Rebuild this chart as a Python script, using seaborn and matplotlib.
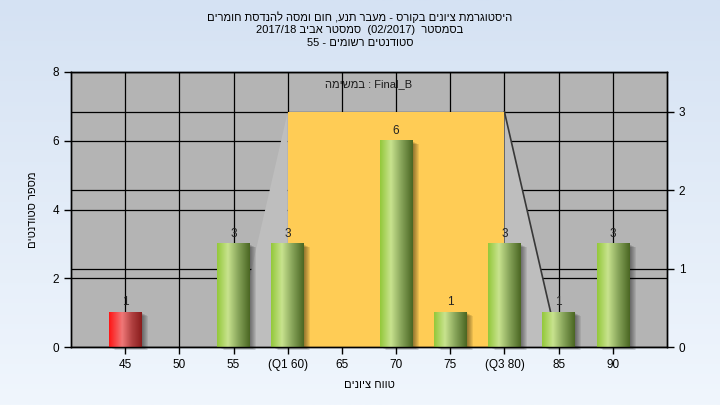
import re
import numpy as np
import pandas as pd
import matplotlib
matplotlib.use('Agg')
import matplotlib.pyplot as plt
import seaborn as sns
from matplotlib.patches import Rectangle, Polygon
from matplotlib.colors import to_rgb

# ---------------- data ----------------
grade_labels = ['45', '50', '55', '(Q1 60)', '65', '70', '75', '(Q3 80)', '85', '90']
student_counts = [1, 0, 3, 3, 0, 6, 1, 3, 1, 3]
fail_labels = ['45']
q1_label = '(Q1 60)'
q3_label = '(Q3 80)'
whisker_low = '55'
whisker_high = '85'
box_height_right = 3
left_ticks = [0, 2, 4, 6, 8]
right_ticks = [0, 1, 2, 3]
left_max = 8
right_max = 3.51

title_1 = 'היסטוגרמת ציונים בקורס - מעבר תנע, חום ומסה להנדסת חומרים'
title_2 = 'בסמסטר  (02/2017)  סמסטר אביב 2017/18'
title_3 = 'סטודנטים רשומים - 55'
task_word = 'במשימה'
task_name = 'Final_B'
y_label = 'מספר סטודנטים'
x_label = 'טווח ציונים'


def rtl(s):
    """Visual (display) order for a right-to-left line."""
    r = s[::-1]
    r = re.sub(r'[0-9/]+', lambda m: m.group(0)[::-1], r)
    return r.translate(str.maketrans('()', ')('))


FONT = ['Liberation Sans', 'DejaVu Sans']
plt.rcParams['font.family'] = FONT
FS = 8.5
FS_T = 8

W, H = 720, 405
fig = plt.figure(figsize=(7.2, 4.05), dpi=100)

# background gradient
bg = fig.add_axes([0, 0, 1, 1])
bg.set_zorder(-5)
top = np.array(to_rgb('#d5e2f3'))
bot = np.array(to_rgb('#f0f6fd'))
t = np.linspace(0, 1, 256)[:, None, None]
grad = top * (1 - t) + bot * t
bg.imshow(grad, aspect='auto', extent=[0, 1, 0, 1], origin='upper')
bg.axis('off')

ax_l, ax_r, ax_b, ax_t = 71, 667, 347, 72
ax = fig.add_axes([ax_l / W, 1 - ax_b / H, (ax_r - ax_l) / W, (ax_b - ax_t) / H])
ax.set_facecolor('#b4b4b4')

df = pd.DataFrame({'grade': grade_labels, 'count': student_counts})
palette = {g: ('#ff2020' if g in fail_labels else '#9ccc3c') for g in grade_labels}
sns.barplot(data=df, x='grade', y='count', order=grade_labels, hue='grade',
            palette=palette, legend=False, width=0.6, saturation=1, ax=ax,
            zorder=4, linewidth=0)

xlim = (-1, len(grade_labels))
ax.set_xlim(*xlim)
ax.set_ylim(0, left_max)
scale = left_max / right_max
px = (xlim[1] - xlim[0]) / (ax_r - ax_l)
py = left_max / (ax_b - ax_t)

# grid lines
ax.set_yticks(left_ticks)
ax.set_axisbelow(True)
ax.grid(True, color='black', linewidth=0.9, zorder=0.5)
for v in right_ticks[1:]:
    ax.axhline(v * scale, color='black', linewidth=0.9, zorder=0.5)

# box region and whiskers
iq1 = grade_labels.index(q1_label)
iq3 = grade_labels.index(q3_label)
ilo = grade_labels.index(whisker_low)
ihi = grade_labels.index(whisker_high)
hb = box_height_right * scale
ax.add_patch(Polygon([(iq1, hb), (ilo, 0), (iq1, 0)], closed=True,
                     facecolor='#bebebe', edgecolor='none', zorder=1.5))
ax.add_patch(Polygon([(iq3, hb), (ihi, 0), (iq3, 0)], closed=True,
                     facecolor='#bebebe', edgecolor='none', zorder=1.5))
ax.plot([iq3, ihi], [hb, 0], color='#383838', linewidth=1.2, zorder=1.8)
ax.add_patch(Rectangle((iq1, 0), iq3 - iq1, hb, facecolor='#ffcc55',
                       edgecolor='none', zorder=2))


def gradient(stops, n=128):
    xs = np.linspace(0, 1, n)
    pos = [s[0] for s in stops]
    cols = np.array([to_rgb(s[1]) for s in stops])
    arr = np.stack([np.interp(xs, pos, cols[:, k]) for k in range(3)], axis=-1)
    return arr[None, :, :]


green_grad = gradient([(0, '#93c83a'), (0.33, '#c8e38e'), (0.65, '#87a45a'), (1, '#4a6622')])
red_grad = gradient([(0, '#ff1414'), (0.4, '#f07878'), (0.7, '#b04040'), (1, '#8a1c1c')])

for p in list(ax.patches):
    if not isinstance(p, Rectangle) or p.get_zorder() != 4:
        continue
    h = p.get_height()
    x0 = p.get_x()
    w = p.get_width()
    if h <= 0:
        continue
    idx = int(round(x0 + w / 2))
    g = red_grad if grade_labels[idx] in fail_labels else green_grad
    p.set_facecolor('none')
    ax.imshow(g, extent=[x0, x0 + w, 0, h], aspect='auto', zorder=4.2,
              interpolation='bilinear')
    for k, off in enumerate([1.5, 2.5, 3.5, 4.5, 5.5, 6.5]):
        ax.add_patch(Rectangle((x0 + off * px, -off * 0.5 * py), w, h,
                               facecolor='black', edgecolor='none',
                               alpha=0.08, zorder=3, clip_on=False))
    ax.annotate(str(student_counts[idx]), (x0 + w / 2, h), xytext=(0, 3),
                textcoords='offset points', ha='center', va='bottom',
                fontsize=FS, color='#222222', zorder=6)

ax.set_xlim(*xlim)
ax.set_ylim(0, left_max)
ax.set_aspect('auto')

ax.set_xticks(range(len(grade_labels)))
ax.set_xticklabels(grade_labels)
ax.tick_params(axis='both', direction='out', length=5, width=1, color='black',
               labelsize=FS, labelcolor='black')
for s in ax.spines.values():
    s.set_color('black')
    s.set_linewidth(1)

ax.set_xlabel(rtl(x_label), fontsize=FS_T)
ax.xaxis.set_label_coords(0.5, -0.12)
ax.set_ylabel(rtl(y_label), fontsize=FS_T, rotation=90)
ax.yaxis.set_label_coords(-0.056, 0.5)

ax2 = ax.twinx()
ax2.set_ylim(0, right_max)
ax2.set_yticks(right_ticks)
ax2.tick_params(axis='y', direction='out', length=5, width=1, color='black',
                labelsize=FS, labelcolor='black')
ax2.grid(False)
for s in ax2.spines.values():
    s.set_color('black')
    s.set_linewidth(1)

ax.text(0.5, 0.955, task_word[::-1] + ' : ' + task_name, transform=ax.transAxes,
        ha='center', va='center', fontsize=FS_T, color='#1a1a1a', zorder=7)

fig.text(0.5, 1 - 17 / H, rtl(title_1), ha='center', va='center', fontsize=FS_T)
fig.text(0.5, 1 - 30 / H, rtl(title_2), ha='center', va='center', fontsize=FS_T)
fig.text(0.5, 1 - 43 / H, rtl(title_3), ha='center', va='center', fontsize=FS_T)

fig.savefig('out.png', dpi=100)
